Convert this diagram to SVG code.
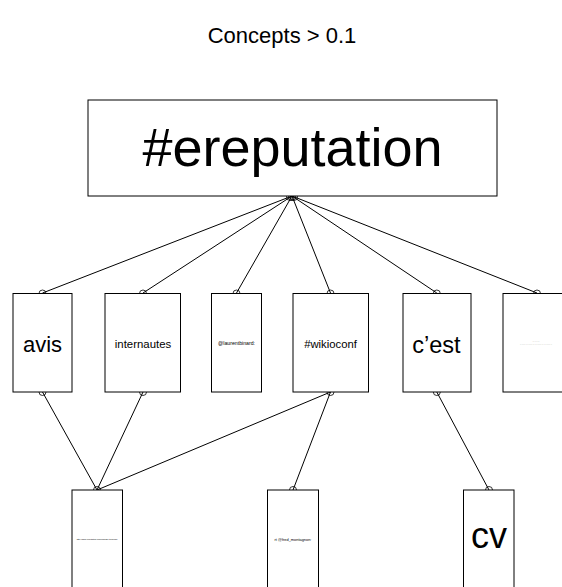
<svg xmlns="http://www.w3.org/2000/svg" width="562" height="587" viewBox="0 0 562 587">
<style>
.box{fill:#fff;stroke:#000;stroke-width:1}
.edge{fill:none;stroke:#000;stroke-width:1}
.end{fill:none;stroke:#000;stroke-width:0.8}
text{font-family:"Liberation Sans",Arial,sans-serif;text-anchor:middle;fill:#000}
</style>
<rect width="562" height="587" fill="#fff"/>
<text x="282" y="43" font-size="22">Concepts &gt; 0.1</text>
<g id="connectors">
<line class="edge" x1="292" y1="196" x2="42.5" y2="293"/>
<line class="edge" x1="292" y1="196" x2="143" y2="293"/>
<line class="edge" x1="292" y1="196" x2="236.5" y2="293"/>
<line class="edge" x1="292" y1="196" x2="330.5" y2="293"/>
<line class="edge" x1="292" y1="196" x2="436.8" y2="293"/>
<line class="edge" x1="292" y1="196" x2="537" y2="293"/>
<line class="edge" x1="42.5" y1="392" x2="97" y2="490"/>
<line class="edge" x1="143" y1="392" x2="97" y2="490"/>
<line class="edge" x1="330.5" y1="392" x2="97" y2="490"/>
<line class="edge" x1="330.5" y1="392" x2="293" y2="490"/>
<line class="edge" x1="436.8" y1="392" x2="489" y2="490"/>
</g>
<g id="endpoints">
<circle class="end" cx="292" cy="197" r="3.5"/>
<circle class="end" cx="290" cy="197" r="3.5"/>
<circle class="end" cx="294" cy="197" r="3.5"/>
<circle class="end" cx="42.5" cy="293.5" r="3.5"/>
<circle class="end" cx="143" cy="293.5" r="3.5"/>
<circle class="end" cx="236.5" cy="293.5" r="3.5"/>
<circle class="end" cx="330.5" cy="293.5" r="3.5"/>
<circle class="end" cx="436.8" cy="293.5" r="3.5"/>
<circle class="end" cx="537" cy="293.5" r="3.5"/>
<circle class="end" cx="42.5" cy="392" r="3.5"/>
<circle class="end" cx="143" cy="392" r="3.5"/>
<circle class="end" cx="330.5" cy="392" r="3.5"/>
<circle class="end" cx="436.8" cy="392" r="3.5"/>
<circle class="end" cx="97" cy="490" r="3.5"/>
<circle class="end" cx="293" cy="490" r="3.5"/>
<circle class="end" cx="489" cy="490" r="3.5"/>
</g>
<g id="n-ereputation"><rect class="box" x="88" y="100" width="409" height="96"/><text x="292.5" y="166" font-size="54">#ereputation</text></g>
<g id="n-avis"><rect class="box" x="13" y="293.5" width="59" height="98.5"/><text x="42.5" y="352" font-size="22">avis</text></g>
<g id="n-internautes"><rect class="box" x="105" y="293.5" width="75.5" height="98.5"/><text x="143" y="347.5" font-size="11.4">internautes</text></g>
<g id="n-laurentbinard"><rect class="box" x="211.5" y="293.5" width="50" height="98.5"/><text x="236.5" y="345" font-size="5.2">@laurentbinard:</text></g>
<g id="n-wikioconf"><rect class="box" x="293" y="293.5" width="75.5" height="98.5"/><text x="330.5" y="347.5" font-size="11.3">#wikioconf</text></g>
<g id="n-cest"><rect class="box" x="403" y="293.5" width="68" height="98.5"/><text x="436.5" y="352.5" font-size="23.5">c’est</text></g>
<g id="n-6"><rect class="box" x="503" y="293.5" width="70" height="98.5"/><text x="536" y="342.3" font-size="1.8">…………</text><text x="536" y="344.6" font-size="1.8">………………………………………………</text></g>
<g id="n-http"><rect class="box" x="72" y="490" width="50.5" height="110"/><text x="97" y="540" font-size="2.0">http://www.ereputation.com/manage-tools.php</text></g>
<g id="n-rt"><rect class="box" x="267.5" y="490" width="51" height="110"/><text x="293" y="540.5" font-size="3.9">rt @fred_montagnon:</text></g>
<g id="n-cv"><rect class="box" x="463.5" y="490" width="50.5" height="110"/><text x="489" y="548" font-size="36">cv</text></g>
</svg>
